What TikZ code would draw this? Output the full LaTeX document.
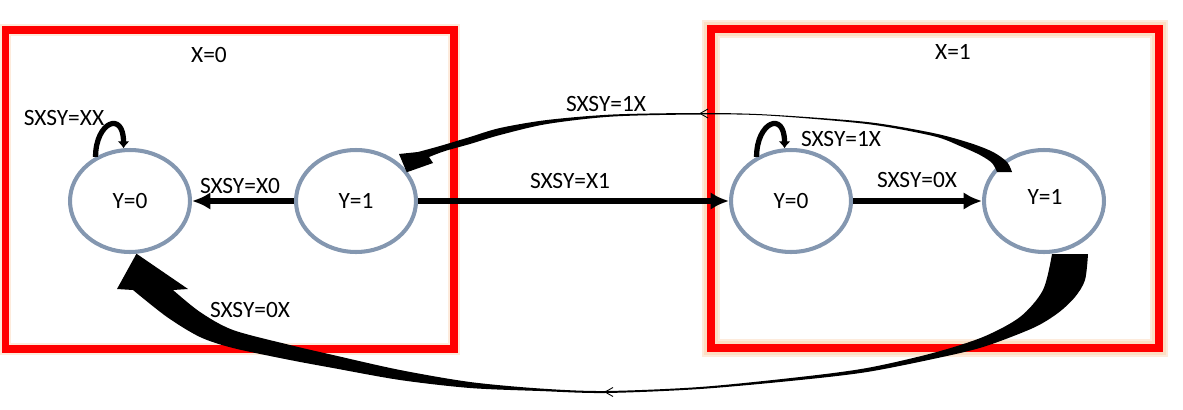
\documentclass[tikz,border=0pt]{standalone}
\usepackage{fontspec}
\setmainfont{Carlito}
\usetikzlibrary{arrows.meta,shapes.geometric}

\definecolor{stategray}{RGB}{132,151,176}
\definecolor{glowcol}{RGB}{250,190,140}

\tikzset{
  state/.style={ellipse, draw=stategray, line width=2.3pt, minimum width=2.4cm,
    minimum height=2.04cm, inner sep=0pt},
  frame/.style={draw=red, line width=4.5pt},
  glow/.style={draw=glowcol, line width=#1, opacity=0.3},
  tr/.style={-{Latex[length=10.5pt,width=10pt]}, line width=3.2pt},
  selfloop/.style={-{Latex[length=4pt,width=7pt]}, line width=3pt},
  lbl/.style={inner sep=0pt}
}

\begin{document}
\begin{tikzpicture}[x=0.02cm,y=-0.02cm,font=\fontsize{13.3}{16}\selectfont]
    \useasboundingbox (0,0) rectangle (1183,409);

    % the two boxes
    \draw[glow=6.5pt] (5.5,30) rectangle (454,349);
    \draw[glow=10pt] (711,29) rectangle (1159,348);
    \draw[glow=8pt] (711,29) rectangle (1159,348);
    \draw[frame] (5.5,30) rectangle (454,349);
    \draw[frame] (711,29) rectangle (1159,348);
    \node[lbl] (xzero) at (209,55) {X=0};
    \node[lbl] (xone) at (953,52) {X=1};

    % states
    \node[state] (lzero) at (130,201) {Y=0};
    \node[state] (lone) at (356,201) {Y=1};
    \node[state] (rzero) at (791,201) {Y=0};
    \node[state] (rone) at (1044,201) {};
    \node[lbl] (ronetext) at (1045,197) {Y=1};

    % straight transitions
    \draw[tr] (lone.west) -- (lzero.east);
    \draw[tr] (lone.east) -- (rzero.west);
    \draw[tr] (rzero.east) -- (rone.west);

    % self loops
    \draw[selfloop] (lzero.128) .. controls +(0,-35) and +(0,-38) .. (lzero.97);
    \draw[selfloop] (rzero.128) .. controls +(0,-35) and +(0,-38) .. (rzero.97);

    % upper curved arrow, rone -> lone
    \coordinate (uptip) at (lone.31);
    \fill plot[smooth] coordinates {(1012,172) (1007,162) (993,152) (970,143) (933,133)
        (867,122) (767,114.5) (700,113) (613,114.5) (547,120) (500,128) (470,137)
        (440,146) (418,152)}
      -- (399,154) -- ([yshift=-1pt]uptip) -- (433,163)
      -- plot[smooth] coordinates {(429,157) (445,151) (470,144) (500,135) (547,124)
        (613,116.5) (700,114.5) (767,115.5) (867,124) (933,136) (960,146) (980,155)
        (992,163) (997,172)} -- cycle;
    \draw[line width=0.5pt] (708,109) -- (700,113.5) -- (708,118);

    % lower curved arrow, rone -> lzero
    \fill plot[smooth] coordinates {(1088,254) (1085,280) (1075,297) (1058,313)
        (1033,328) (983,347) (933,359) (867,372) (800,380) (700,389) (605,393)
        (540,391) (470,388) (400,380) (333,368) (290,360) (233,348) (200,337)
        (167,317) (133,290)}
      -- (117,289) -- (lzero.-83) -- (188,289) -- (173,290)
      -- plot[smooth] coordinates {(173,290) (200,312) (233,330) (290,345) (333,355)
        (400,370) (470,382) (540,388.5) (605,391) (700,387) (800,377) (867,368)
        (933,353) (983,337) (1020,317) (1043,290) (1052,254)} -- cycle;
    \draw[line width=0.5pt] (613,387.5) -- (605,392) -- (613,396.5);

    % transition labels
    \node[lbl] (lblxx) at (64,118) {SXSY=XX};
    \node[lbl] (lblxz) at (240,186) {SXSY=X0};
    \node[lbl] (lblxo) at (570,181) {SXSY=X1};
    \node[lbl] (lbloxtop) at (606,104) {SXSY=1X};
    \node[lbl] (lbloxr) at (841,139) {SXSY=1X};
    \node[lbl] (lblzxr) at (917,180) {SXSY=0X};
    \node[lbl] (lblzxb) at (250,310) {SXSY=0X};
\end{tikzpicture}
\end{document}
